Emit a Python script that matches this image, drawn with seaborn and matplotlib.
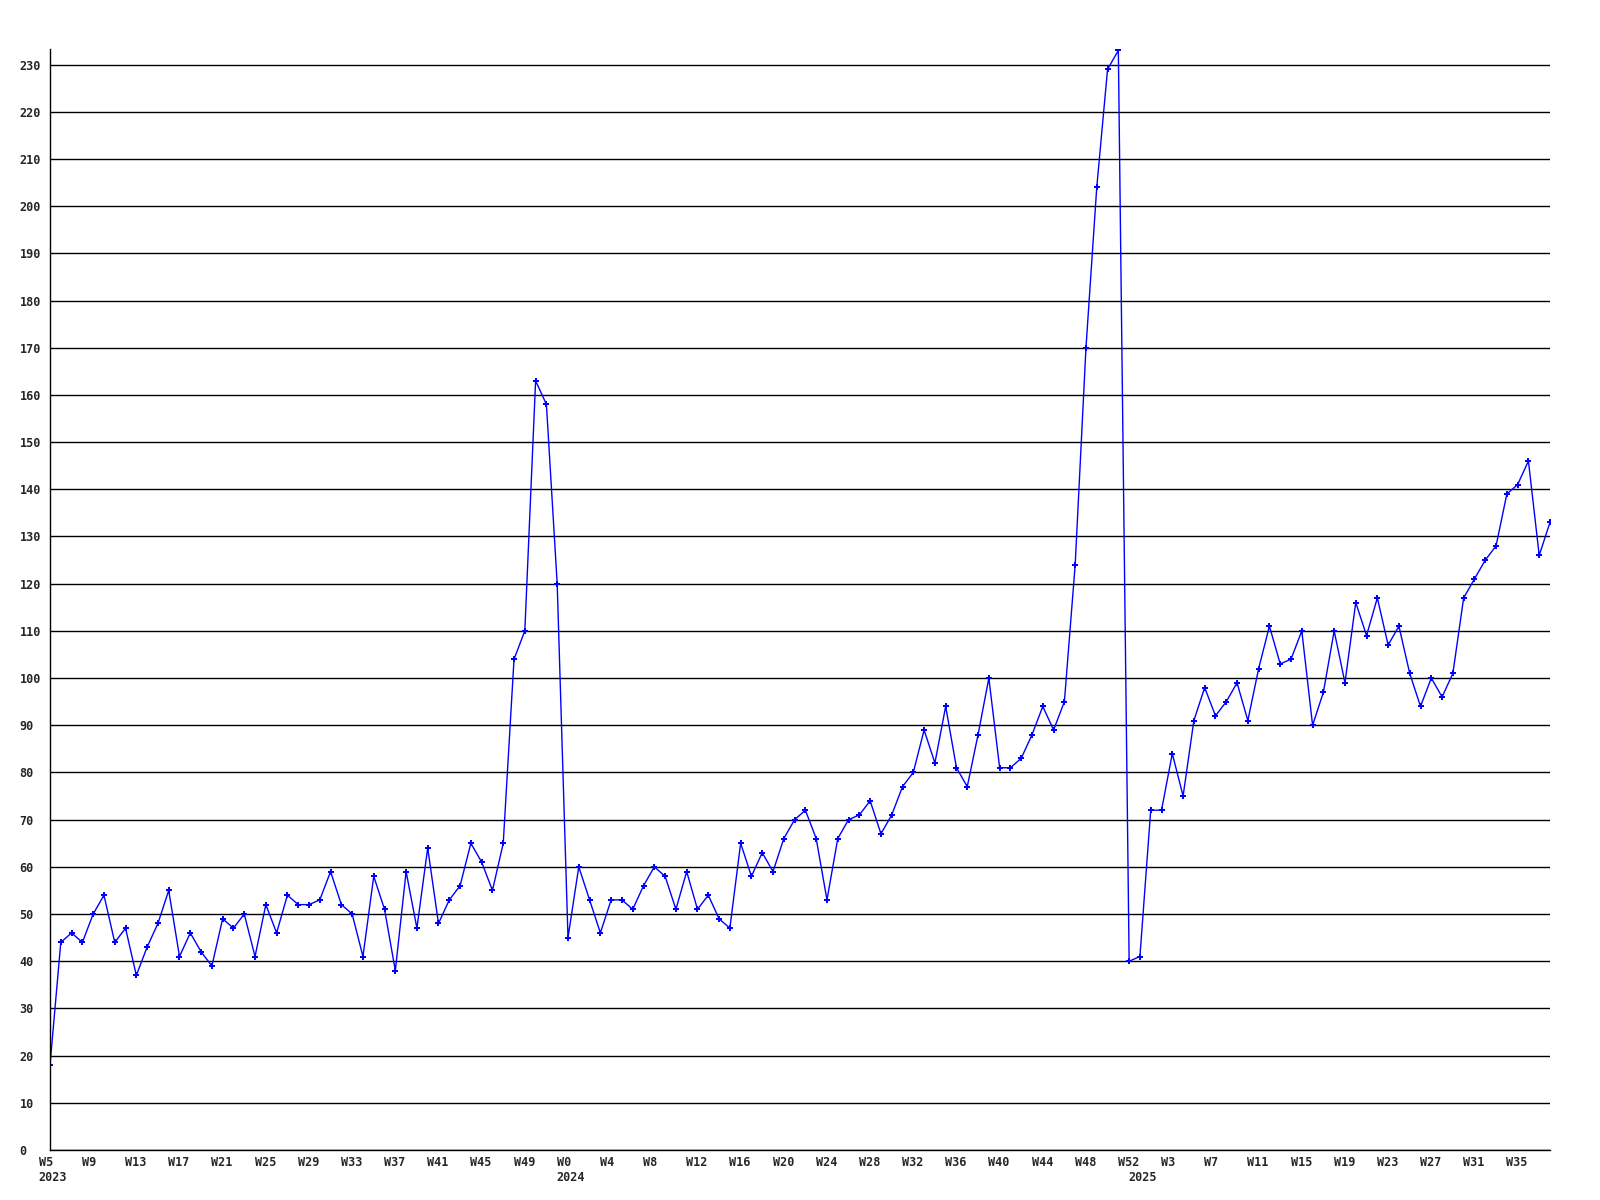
import matplotlib
matplotlib.use("Agg")
import matplotlib.pyplot as plt
import matplotlib.transforms as mtransforms
import pandas as pd
import seaborn as sns

# weekly counts
weeks_2023 = list(range(5, 53))
values_2023 = [18, 44, 46, 44, 50, 54, 44, 47, 37, 43, 48, 55, 41, 46, 42, 39,
               49, 47, 50, 41, 52, 46, 54, 52, 52, 53, 59, 52, 50, 41, 58, 51,
               38, 59, 47, 64, 48, 53, 56, 65, 61, 55, 65, 104, 110, 163, 158, 120]

weeks_2024 = list(range(0, 53))
values_2024 = [45, 60, 53, 46, 53, 53, 51, 56, 60, 58, 51, 59, 51, 54, 49, 47,
               65, 58, 63, 59, 66, 70, 72, 66, 53, 66, 70, 71, 74, 67, 71, 77,
               80, 89, 82, 94, 81, 77, 88, 100, 81, 81, 83, 88, 94, 89, 95, 124,
               170, 204, 229, 233, 40]

weeks_2025 = list(range(0, 39))
values_2025 = [41, 72, 72, 84, 75, 91, 98, 92, 95, 99, 91, 102, 111, 103, 104, 110,
               90, 97, 110, 99, 116, 109, 117, 107, 111, 101, 94, 100, 96, 101, 117, 121,
               125, 128, 139, 141, 146, 126, 133]

years = ["2023", "2024", "2025"]

# %%
df = pd.DataFrame({
    "Ano": [years[0]] * len(weeks_2023) + [years[1]] * len(weeks_2024) + [years[2]] * len(weeks_2025),
    "Semana": weeks_2023 + weeks_2024 + weeks_2025,
    "Valor": values_2023 + values_2024 + values_2025,
})
df["Pos"] = range(len(df))

# %%
sns.set_style("white")
plt.rcParams["font.family"] = ["DejaVu Sans Mono"]
plt.rcParams["font.weight"] = "bold"

fig = plt.figure(figsize=(16, 12), dpi=100)
ax = fig.add_axes([50 / 1600, 50 / 1200, 1500 / 1600, 1101 / 1200])

sns.lineplot(data=df, x="Pos", y="Valor", color="#0000ff", linewidth=1.0,
             marker="P", markersize=5, markeredgewidth=0, ax=ax)

ax.set_xlim(0, len(df) - 1)
ax.set_ylim(0, 233.3)
ax.set_yticks(range(0, 231, 10))
ax.yaxis.grid(True, color="black", linewidth=1.0)
ax.xaxis.grid(False)
ax.set_axisbelow(True)

for s in ["top", "right"]:
    ax.spines[s].set_visible(False)
ax.spines["left"].set_color("black")
ax.spines["bottom"].set_color("black")
ax.spines["left"].set_linewidth(1.0)
ax.spines["bottom"].set_linewidth(1.0)

# x labels every 4 weeks (left aligned a bit before the point), year below first week
ax.set_xticks([])
week_tr = ax.get_xaxis_transform() + mtransforms.ScaledTranslation(-0.112, -0.055, fig.dpi_scale_trans)
year_tr = ax.get_xaxis_transform() + mtransforms.ScaledTranslation(-0.112, -0.208, fig.dpi_scale_trans)
for p in range(0, len(df), 4):
    ax.text(p, 0, "W%d" % df.loc[p, "Semana"], transform=week_tr, ha="left", va="top",
            fontsize=8.5, fontweight="bold", clip_on=False)
first_idx = df.groupby("Ano")["Pos"].min()
for yr, p in first_idx.items():
    ax.text(p, 0, yr, transform=year_tr, ha="left", va="top",
            fontsize=8.5, fontweight="bold", clip_on=False)

ax.tick_params(axis="y", length=0, pad=22, labelsize=8.5)
for lab in ax.get_yticklabels():
    lab.set_ha("left")
    lab.set_fontweight("bold")

ax.set_xlabel("")
ax.set_ylabel("")

fig.savefig("out.png", dpi=100, facecolor="white")
